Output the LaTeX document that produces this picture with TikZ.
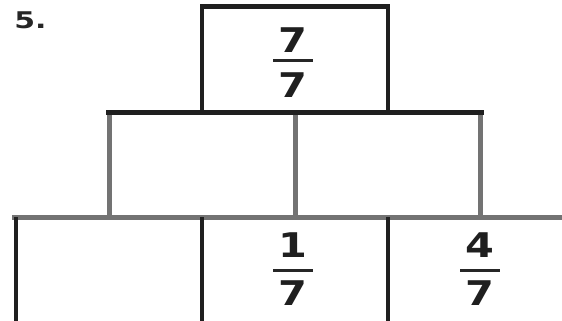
\documentclass[tikz,border=0pt]{standalone}
\usepackage{fontspec}
\setmainfont{DejaVu Sans}
\begin{document}
\begin{tikzpicture}[x=1pt,y=-1pt,
  dk/.style={draw=black!88,line width=4.5pt},
  gr/.style={draw=black!55,line width=5pt},
  num/.style={font=\fontsize{34}{34}\selectfont\bfseries,text=black!88,inner sep=0pt,xscale=1.22},
  lbl/.style={font=\fontsize{23}{23}\selectfont\bfseries,text=black!85,inner sep=0pt,xscale=1.3,anchor=north west},
  bar/.style={draw=black!85,line width=3pt}]
\useasboundingbox (0,0) rectangle (562,321);
% label
\node[lbl] (lab) at (14,12) {5.};
% top box
\draw[dk] (202,112.5) -- (202,6.5) -- (388,6.5) -- (388,112.5);
% bottom row top line (gray)
\draw[gr] (12,217) -- (565,217);
% middle row
\draw[gr] (109,112.5) -- (109,217);
\draw[gr] (295,112.5) -- (295,217);
\draw[gr] (480,112.5) -- (480,217);
\draw[dk] (106,112.5) -- (484,112.5);
% bottom verticals
\draw[dk] (16,217) -- (16,325);
\draw[dk] (202,217) -- (202,325);
\draw[dk] (388,217) -- (388,325);
% fractions
\node[num] (t1) at (293,40) {7};
\draw[bar] (273,61) -- (313,61);
\node[num] (t2) at (293,85) {7};
\node[num] (a1) at (293,245) {1};
\draw[bar] (273,270) -- (313,270);
\node[num] (a2) at (293,293) {7};
\node[num] (b1) at (480,245) {4};
\draw[bar] (460,270) -- (500,270);
\node[num] (b2) at (480,293) {7};
\end{tikzpicture}
\end{document}
